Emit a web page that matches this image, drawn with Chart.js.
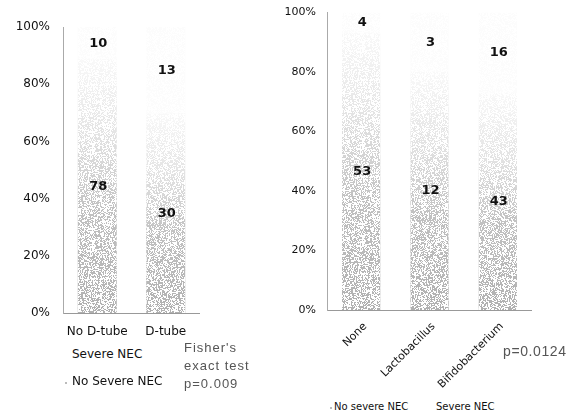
<!DOCTYPE html>
<html>
<head>
<meta charset="utf-8">
<script src="https://cdn.jsdelivr.net/npm/chart.js@4.4.1/dist/chart.umd.min.js"></script>
<style>
    body { margin: 0; background: #fff; width: 580px; height: 417px; position: relative; overflow: hidden; font-family: "DejaVu Sans", sans-serif; color: #111; }
    canvas { position: absolute; }
    .note { position: absolute; white-space: nowrap; line-height: 1; }
    .stat { font-family: "Liberation Sans", sans-serif; color: #555; letter-spacing: 1px; }
    .dot { position: absolute; width: 2px; height: 2px; background: #bbb; }
</style>
</head>
<body>
<canvas id="leftChart" width="200" height="345" style="left:0;top:0"></canvas>
<canvas id="rightChart" width="262" height="400" style="left:270px;top:-5px"></canvas>

<div class="note" style="left:72px;top:348px;font-size:12px">Severe NEC</div>
<div class="dot" style="left:65px;top:382px"></div>
<div class="note" style="left:72px;top:375px;font-size:12px">No Severe NEC</div>
<div class="note stat" style="left:184px;top:341px;font-size:13px">Fisher's</div>
<div class="note stat" style="left:184px;top:359px;font-size:13px">exact test</div>
<div class="note stat" style="left:184px;top:377px;font-size:13px">p=0.009</div>

<div class="note stat" style="left:503px;top:344px;font-size:14px;letter-spacing:0.6px">p=0.0124</div>
<div class="dot" style="left:330px;top:407px"></div>
<div class="note" style="left:334px;top:402px;font-size:10px">No severe NEC</div>
<div class="note" style="left:436px;top:402px;font-size:10px">Severe NEC</div>

<script>
const leftCategories = ['No D-tube', 'D-tube'];
const leftNoSevere = [78, 30];
const leftSevere = [10, 13];

const rightCategories = ['None', 'Lactobacillus', 'Bifidobacterium'];
const rightNoSevere = [53, 12, 43];
const rightSevere = [4, 3, 16];

const percentTicks = [0, 20, 40, 60, 80, 100];

// share of each group, used for the 100% stacked bars
const toPercent = (part, other) => part.map((v, i) => v / (v + other[i]) * 100);

// deterministic speckle so the bars look like the scanned stipple
function hash(x, y) {
    let n = Math.imul(x, 374761393) + Math.imul(y, 668265263);
    n = Math.imul(n ^ (n >>> 13), 1274126177);
    n = n ^ (n >>> 16);
    return (n >>> 0) / 4294967296;
}

function makeSpeckle() {
    const c = document.createElement('canvas');
    c.width = 97;
    c.height = 97;
    const g = c.getContext('2d');
    const img = g.createImageData(97, 97);
    for (let y = 0; y < 97; y++) {
        for (let x = 0; x < 97; x++) {
            const k = (y * 97 + x) * 4;
            img.data[k] = 255;
            img.data[k + 1] = 255;
            img.data[k + 2] = 255;
            img.data[k + 3] = hash(x, y) < 0.5 ? 255 : 0;
        }
    }
    g.putImageData(img, 0, 0);
    return c;
}
const speckleCanvas = makeSpeckle();

function lowerFill(context) {
    const chart = context.chart;
    const area = chart.chartArea;
    if (!area) return 'rgba(170,170,170,0.6)';
    const y = chart.scales.y;
    const top = y.getPixelForValue(context.raw);
    const g = chart.ctx.createLinearGradient(0, area.bottom, 0, top);
    g.addColorStop(0, 'rgba(168,168,168,0.9)');
    g.addColorStop(0.4, 'rgba(172,172,172,0.75)');
    g.addColorStop(0.7, 'rgba(175,175,175,0.35)');
    g.addColorStop(1, 'rgba(180,180,180,0.08)');
    return g;
}

const upperFill = 'rgba(180,180,180,0.04)';

const barDecor = {
    id: 'barDecor',
    afterDatasetsDraw(chart, args, opts) {
        const ctx = chart.ctx;
        const pattern = ctx.createPattern(speckleCanvas, 'repeat');
        ctx.save();
        chart.data.datasets.forEach((ds, di) => {
            chart.getDatasetMeta(di).data.forEach((bar) => {
                const p = bar.getProps(['x', 'y', 'base', 'width'], true);
                ctx.fillStyle = pattern;
                ctx.fillRect(p.x - p.width / 2, p.y, p.width, p.base - p.y);
            });
        });
        ctx.fillStyle = '#111';
        ctx.font = opts.font;
        ctx.textAlign = 'center';
        ctx.textBaseline = 'middle';
        chart.data.datasets.forEach((ds, di) => {
            chart.getDatasetMeta(di).data.forEach((bar, i) => {
                const p = bar.getProps(['x', 'y', 'base'], true);
                ctx.fillText(String(ds.counts[i]), p.x + 1, (p.y + p.base) / 2);
            });
        });
        ctx.restore();
    }
};

function buildChart(el, labels, lower, upper, cfg) {
    return new Chart(el, {
        type: 'bar',
        data: {
            labels: labels,
            datasets: [{
                label: 'No Severe NEC',
                data: toPercent(lower, upper),
                counts: lower,
                backgroundColor: lowerFill,
                borderWidth: 0,
                categoryPercentage: 1,
                barPercentage: cfg.barPct
            }, {
                label: 'Severe NEC',
                data: toPercent(upper, lower),
                counts: upper,
                backgroundColor: upperFill,
                borderWidth: 0,
                categoryPercentage: 1,
                barPercentage: cfg.barPct
            }]
        },
        options: {
            responsive: false,
            animation: false,
            layout: {
                padding: { top: cfg.top, left: 0, right: 0, bottom: 0 }
            },
            scales: {
                x: {
                    stacked: true,
                    grid: { display: false, drawTicks: false },
                    border: { display: true, color: '#999', dash: [1, 3] },
                    ticks: {
                        color: '#111',
                        padding: cfg.xPad,
                        labelOffset: cfg.xShift,
                        minRotation: cfg.rotation,
                        maxRotation: cfg.rotation,
                        font: { family: 'DejaVu Sans', size: cfg.xFont }
                    },
                    afterFit: (scale) => { scale.height = cfg.xHeight; }
                },
                y: {
                    stacked: true,
                    min: 0,
                    max: 100,
                    grid: { display: false, drawTicks: false },
                    border: { display: true, color: '#aaa', dash: [1, 4] },
                    afterBuildTicks: (scale) => { scale.ticks = percentTicks.map(v => ({ value: v })); },
                    ticks: {
                        color: '#111',
                        padding: cfg.yPad,
                        callback: (v) => v + '%',
                        font: { family: 'DejaVu Sans', size: cfg.yFont }
                    },
                    afterFit: (scale) => { scale.width = cfg.yWidth; }
                }
            },
            plugins: {
                legend: { display: false },
                tooltip: { enabled: false },
                barDecor: { font: cfg.valueFont }
            }
        },
        plugins: [barDecor]
    });
}

const leftChart = buildChart(document.getElementById('leftChart'), leftCategories, leftNoSevere, leftSevere, {
    barPct: 0.57, top: 27, xPad: 12, xShift: 0, xHeight: 32, yWidth: 63, yPad: 13,
    rotation: 0, xFont: 12, yFont: 12, valueFont: 'bold 13px "DejaVu Sans"'
});

const rightChart = buildChart(document.getElementById('rightChart'), rightCategories, rightNoSevere, rightSevere, {
    barPct: 0.56, top: 7, xPad: 10, xShift: 4, xHeight: 85, yWidth: 57, yPad: 11,
    rotation: 45, xFont: 11, yFont: 11, valueFont: 'bold 13px "DejaVu Sans"'
});
</script>
</body>
</html>
